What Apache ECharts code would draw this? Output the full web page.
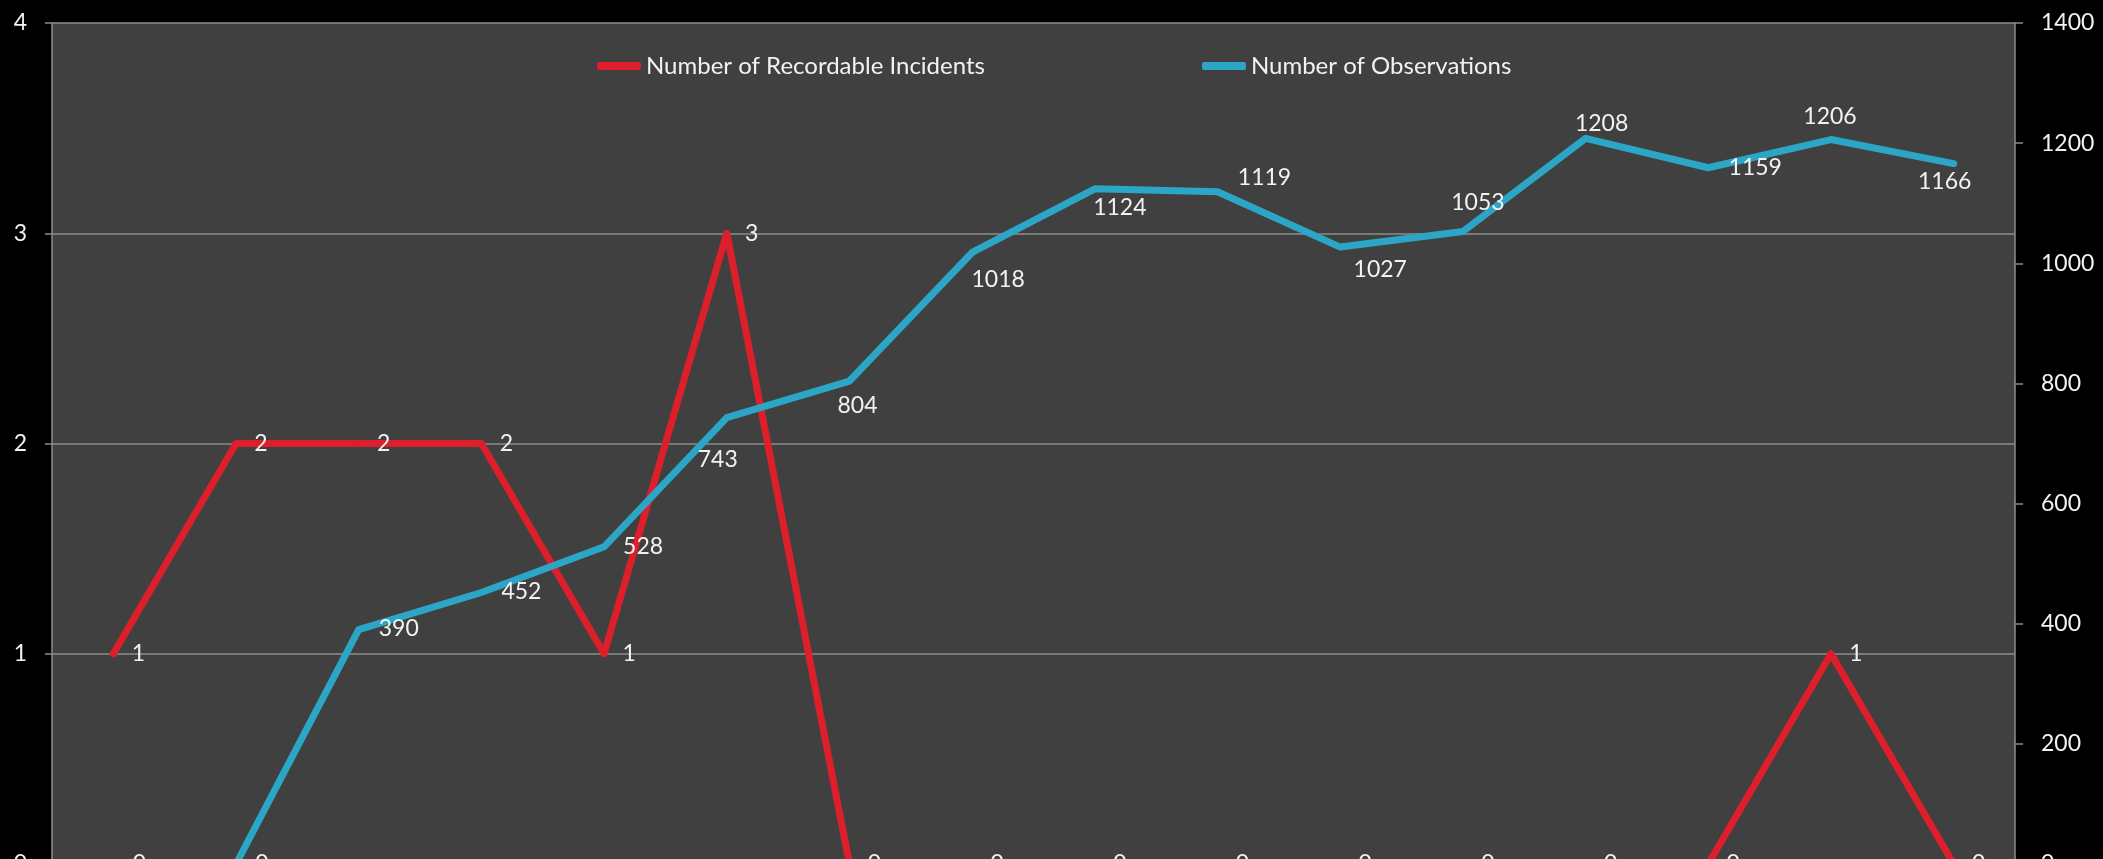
<!DOCTYPE html>
<html>
<head>
<meta charset="utf-8">
<script src="https://cdn.jsdelivr.net/npm/echarts@6/dist/echarts.min.js"></script>
<style>
html,body{margin:0;padding:0;background:#000;overflow:hidden;height:859px;}
#wrap{width:2103px;height:859px;overflow:hidden;position:relative;}
#chart{width:2103px;height:960px;position:absolute;left:0;top:0;}
</style>
</head>
<body>
<div id="wrap"><div id="chart"></div></div>
<script>
// ---- data ----
var categories = ['1','2','3','4','5','6','7','8','9','10','11','12','13','14','15','16'];
var incidentsName = 'Number of Recordable Incidents';
var observationsName = 'Number of Observations';
var incidents = [1, 2, 2, 2, 1, 3, 0, 0, 0, 0, 0, 0, 0, 0, 1, 0];
var observations = [0, 0, 390, 452, 528, 743, 804, 1018, 1124, 1119, 1027, 1053, 1208, 1159, 1206, 1166];
var leftTicks = {min: 0, max: 4, interval: 1};
var rightTicks = {min: 0, max: 1400, interval: 200};

// ---- label placement (style) ----
var incidentLabelOffset = [25, 0];
var obsLabelOffsets = [
  [26, 0], [26, 0], [40, -1], [40, -1], [39, 0], [-9, 42], [8, 25], [26, 27],
  [25, 19], [47, -14], [40, 23], [15, -29], [16, -15], [47, 0], [-1, -23], [-9, 18]
];

var FONT = 'Lato';
var TXT = '#f2f2f2';
var GRIDC = '#8c8c8c';

var chart = echarts.init(document.getElementById('chart'));
var option = {
  backgroundColor: '#000000',
  animation: false,
  textStyle: {fontFamily: FONT},
  legend: {
    left: 597,
    top: 52,
    padding: 0,
    itemGap: 217,
    itemWidth: 44,
    itemHeight: 8,
    icon: 'roundRect',
    textStyle: {color: TXT, fontFamily: FONT, fontSize: 24, lineHeight: 28},
    data: [incidentsName, observationsName]
  },
  grid: {
    left: 52, right: 88, top: 23, bottom: 96,
    show: true, backgroundColor: '#404040', borderWidth: 0,
    containLabel: false
  },
  xAxis: {
    type: 'category',
    data: categories,
    boundaryGap: true,
    axisLine: {show: false},
    axisTick: {show: false},
    axisLabel: {show: false},
    splitLine: {show: false}
  },
  yAxis: [
    {
      type: 'value',
      position: 'left',
      min: leftTicks.min, max: leftTicks.max, interval: leftTicks.interval,
      axisLine: {show: true, lineStyle: {color: GRIDC, width: 1.5}},
      axisTick: {show: true, length: 7, lineStyle: {color: GRIDC, width: 1.5}},
      axisLabel: {color: TXT, fontFamily: FONT, fontSize: 23, margin: 25},
      splitLine: {show: true, lineStyle: {color: GRIDC, width: 1.5}}
    },
    {
      type: 'value',
      position: 'right',
      min: rightTicks.min, max: rightTicks.max, interval: rightTicks.interval,
      axisLine: {show: true, lineStyle: {color: GRIDC, width: 1.5}},
      axisTick: {show: true, length: 8, lineStyle: {color: GRIDC, width: 1.5}},
      axisLabel: {color: TXT, fontFamily: FONT, fontSize: 23, margin: 26, align: 'left',
        formatter: function (v) { return String(v); }},
      splitLine: {show: false}
    }
  ],
  series: [
    {
      name: incidentsName,
      type: 'line',
      yAxisIndex: 0,
      data: incidents,
      symbol: 'circle',
      symbolSize: 2,
      showSymbol: true,
      itemStyle: {color: '#DC1F2A'},
      lineStyle: {color: '#DC1F2A', width: 7, cap: 'round', join: 'round'},
      label: {
        show: true, position: 'inside', offset: incidentLabelOffset,
        color: TXT, fontFamily: FONT, fontSize: 23, align: 'center', verticalAlign: 'middle'
      },
      z: 2
    },
    {
      name: observationsName,
      type: 'line',
      yAxisIndex: 1,
      data: observations.map(function (v, i) {
        return {value: v, label: {offset: obsLabelOffsets[i]}};
      }),
      symbol: 'circle',
      symbolSize: 2,
      showSymbol: true,
      itemStyle: {color: '#2BA6C6'},
      lineStyle: {color: '#2BA6C6', width: 7, cap: 'round', join: 'round'},
      label: {
        show: true, position: 'inside',
        color: TXT, fontFamily: FONT, fontSize: 23, align: 'center', verticalAlign: 'middle'
      },
      z: 3
    }
  ]
};
chart.setOption(option);
</script>
</body>
</html>
